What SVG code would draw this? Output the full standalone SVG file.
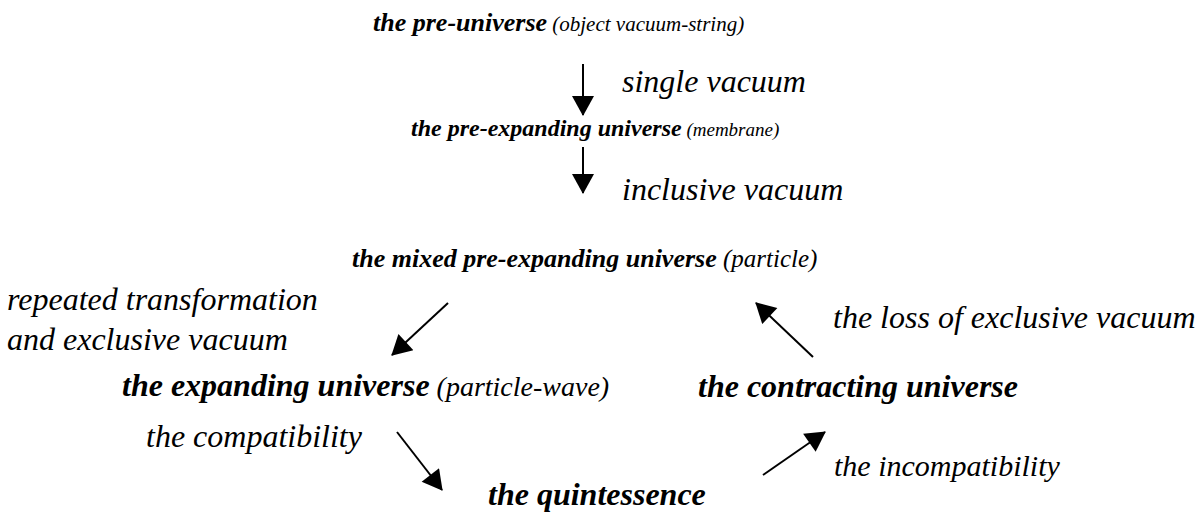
<svg xmlns="http://www.w3.org/2000/svg" width="1198" height="519" viewBox="0 0 1198 519">
<style>
text{font-family:'Liberation Serif','Times New Roman',Times,serif;font-style:italic;fill:#000;font-size:32px}
.b{font-weight:bold}
.c{stroke:#000;stroke-width:2;fill:none}
</style>
<defs>
<marker id="ah" markerUnits="userSpaceOnUse" markerWidth="22" markerHeight="22" viewBox="0 0 20 22" refX="19" refY="11" orient="auto">
<path d="M0,0 L20,11 L0,22 z" fill="#000"/>
</marker>
</defs>
<rect width="1198" height="519" fill="#fff"/>
<g id="connectors">
<line class="c" x1="583" y1="64" x2="583" y2="115" marker-end="url(#ah)"/>
<line class="c" x1="583" y1="147" x2="583" y2="193" marker-end="url(#ah)"/>
<line class="c" x1="448" y1="303" x2="392" y2="355" marker-end="url(#ah)"/>
<line class="c" x1="813" y1="357" x2="756" y2="303" marker-end="url(#ah)"/>
<line class="c" x1="397" y1="432" x2="442" y2="490" marker-end="url(#ah)"/>
<line class="c" x1="763" y1="475" x2="825" y2="432" marker-end="url(#ah)"/>
</g>
<g id="pre-universe"><text x="373" y="31"><tspan class="b" font-size="26">the pre-universe</tspan><tspan font-size="21"> (object vacuum-string)</tspan></text></g>
<g id="label-single"><text x="622" y="92">single vacuum</text></g>
<g id="pre-expanding"><text x="411" y="136"><tspan class="b" font-size="24">the pre-expanding universe</tspan><tspan font-size="19"> (membrane)</tspan></text></g>
<g id="label-inclusive"><text x="622" y="200">inclusive vacuum</text></g>
<g id="mixed"><text x="352" y="267"><tspan class="b" font-size="26">the mixed pre-expanding universe</tspan><tspan font-size="25"> (particle)</tspan></text></g>
<g id="label-repeated"><text x="7" y="310">repeated transformation</text><text x="7" y="350">and exclusive vacuum</text></g>
<g id="label-loss"><text x="833" y="328">the loss of exclusive vacuum</text></g>
<g id="expanding"><text x="122" y="396"><tspan class="b">the expanding universe</tspan><tspan font-size="28"> (particle-wave)</tspan></text></g>
<g id="contracting"><text class="b" x="698" y="397">the contracting universe</text></g>
<g id="label-compat"><text x="146" y="447">the compatibility</text></g>
<g id="label-incompat"><text x="834" y="476" style="font-size:30px">the incompatibility</text></g>
<g id="quintessence"><text class="b" x="488" y="505">the quintessence</text></g>
</svg>
